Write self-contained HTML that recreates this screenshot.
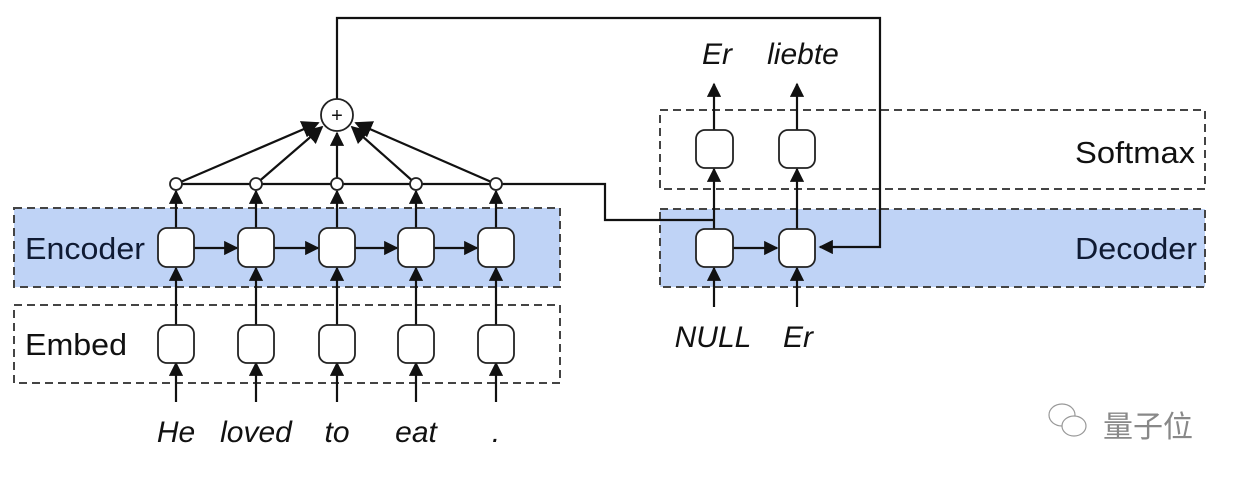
<!DOCTYPE html>
<html><head><meta charset="utf-8"><style>
html,body{margin:0;padding:0;background:#fff;}
svg{display:block;}
text{font-family:"Liberation Sans",Arial,sans-serif;}
</style></head><body>
<svg width="1234" height="480" viewBox="0 0 1234 480" xmlns="http://www.w3.org/2000/svg">
<defs>
<marker id="ah" viewBox="0 0 10 10" refX="9" refY="5" markerWidth="6.5" markerHeight="6.5" orient="auto" markerUnits="strokeWidth"><path d="M0,0 L10,5 L0,10 z" fill="#111"/></marker>
<marker id="ahb" viewBox="0 0 10 10" refX="9" refY="5" markerWidth="8" markerHeight="8" orient="auto" markerUnits="strokeWidth"><path d="M0,0 L10,5 L0,10 z" fill="#111"/></marker>
</defs>
<rect x="14" y="208" width="546" height="79" fill="#bfd3f6" stroke="#444" stroke-width="2" stroke-dasharray="8,5"/>
<rect x="14" y="305" width="546" height="78" fill="none" stroke="#444" stroke-width="2" stroke-dasharray="8,5"/>
<rect x="660" y="110" width="545" height="79" fill="none" stroke="#444" stroke-width="2" stroke-dasharray="8,5"/>
<rect x="660" y="209" width="545" height="78" fill="#bfd3f6" stroke="#444" stroke-width="2" stroke-dasharray="8,5"/>
<text x="25" y="259" font-size="31" fill="#0f1a33" textLength="120" lengthAdjust="spacingAndGlyphs">Encoder</text>
<text x="25" y="355" font-size="31" fill="#111" textLength="102" lengthAdjust="spacingAndGlyphs">Embed</text>
<text x="1075" y="163" font-size="31" fill="#111" textLength="120" lengthAdjust="spacingAndGlyphs">Softmax</text>
<text x="1075" y="259" font-size="31" fill="#0f1a33" textLength="122" lengthAdjust="spacingAndGlyphs">Decoder</text>
<g stroke="#111" stroke-width="2.2" fill="none">
<polyline points="337,99 337,18 880,18 880,247 820,247" marker-end="url(#ah)"/>
<polyline points="496,184 605,184 605,220 714,220"/>
<line x1="176" y1="184" x2="496" y2="184"/>
<line x1="176" y1="184" x2="318" y2="123" marker-end="url(#ahb)"/>
<line x1="256" y1="184" x2="322" y2="127" marker-end="url(#ahb)"/>
<line x1="337" y1="184" x2="337" y2="133" marker-end="url(#ah)"/>
<line x1="416" y1="184" x2="352" y2="127" marker-end="url(#ahb)"/>
<line x1="496" y1="184" x2="356" y2="123" marker-end="url(#ahb)"/>
</g>
<g stroke="#111" stroke-width="2.2" fill="none">
<line x1="176" y1="228" x2="176" y2="191" marker-end="url(#ah)"/>
<line x1="256" y1="228" x2="256" y2="191" marker-end="url(#ah)"/>
<line x1="337" y1="228" x2="337" y2="191" marker-end="url(#ah)"/>
<line x1="416" y1="228" x2="416" y2="191" marker-end="url(#ah)"/>
<line x1="496" y1="228" x2="496" y2="191" marker-end="url(#ah)"/>
<line x1="176" y1="325" x2="176" y2="268" marker-end="url(#ah)"/>
<line x1="256" y1="325" x2="256" y2="268" marker-end="url(#ah)"/>
<line x1="337" y1="325" x2="337" y2="268" marker-end="url(#ah)"/>
<line x1="416" y1="325" x2="416" y2="268" marker-end="url(#ah)"/>
<line x1="496" y1="325" x2="496" y2="268" marker-end="url(#ah)"/>
<line x1="176" y1="402" x2="176" y2="363" marker-end="url(#ah)"/>
<line x1="256" y1="402" x2="256" y2="363" marker-end="url(#ah)"/>
<line x1="337" y1="402" x2="337" y2="363" marker-end="url(#ah)"/>
<line x1="416" y1="402" x2="416" y2="363" marker-end="url(#ah)"/>
<line x1="496" y1="402" x2="496" y2="363" marker-end="url(#ah)"/>
<line x1="194" y1="248" x2="237" y2="248" marker-end="url(#ah)"/>
<line x1="274" y1="248" x2="318" y2="248" marker-end="url(#ah)"/>
<line x1="355" y1="248" x2="397" y2="248" marker-end="url(#ah)"/>
<line x1="434" y1="248" x2="477" y2="248" marker-end="url(#ah)"/>
<line x1="714" y1="229" x2="714" y2="169" marker-end="url(#ah)"/>
<line x1="797" y1="229" x2="797" y2="169" marker-end="url(#ah)"/>
<line x1="714" y1="130" x2="714" y2="84" marker-end="url(#ah)"/>
<line x1="797" y1="130" x2="797" y2="84" marker-end="url(#ah)"/>
<line x1="714" y1="307" x2="714" y2="268" marker-end="url(#ah)"/>
<line x1="797" y1="307" x2="797" y2="268" marker-end="url(#ah)"/>
<line x1="733" y1="248" x2="777" y2="248" marker-end="url(#ah)"/>
</g>
<g fill="#fff" stroke="#222" stroke-width="1.8">
<rect x="158" y="228" width="36" height="39" rx="9"/>
<rect x="238" y="228" width="36" height="39" rx="9"/>
<rect x="319" y="228" width="36" height="39" rx="9"/>
<rect x="398" y="228" width="36" height="39" rx="9"/>
<rect x="478" y="228" width="36" height="39" rx="9"/>
<rect x="158" y="325" width="36" height="38" rx="9"/>
<rect x="238" y="325" width="36" height="38" rx="9"/>
<rect x="319" y="325" width="36" height="38" rx="9"/>
<rect x="398" y="325" width="36" height="38" rx="9"/>
<rect x="478" y="325" width="36" height="38" rx="9"/>
<rect x="696" y="229" width="37" height="38" rx="9"/>
<rect x="779" y="229" width="36" height="38" rx="9"/>
<rect x="696" y="130" width="37" height="38" rx="9"/>
<rect x="779" y="130" width="36" height="38" rx="9"/>
<circle cx="176" cy="184" r="6"/>
<circle cx="256" cy="184" r="6"/>
<circle cx="337" cy="184" r="6"/>
<circle cx="416" cy="184" r="6"/>
<circle cx="496" cy="184" r="6"/>
<circle cx="337" cy="115" r="16"/>
</g>
<text x="337" y="122" font-size="20" text-anchor="middle" fill="#111">+</text>
<g font-size="30" font-style="italic" fill="#111" text-anchor="middle">
<text x="176" y="442">He</text>
<text x="256" y="442">loved</text>
<text x="337" y="442">to</text>
<text x="416" y="442">eat</text>
<text x="496" y="442">.</text>
<text x="717" y="64">Er</text>
<text x="803" y="64">liebte</text>
<text x="713" y="347">NULL</text>
<text x="798" y="347">Er</text>
</g>
<g fill="none" stroke="#999" stroke-width="1.2">
<ellipse cx="1062" cy="415" rx="13" ry="11"/>
<ellipse cx="1074" cy="426" rx="12" ry="10" fill="#fff"/>
</g>
<text x="1103" y="437" font-size="30" fill="#888" font-family="'Noto Sans CJK SC',sans-serif">量子位</text>
</svg>
</body></html>
